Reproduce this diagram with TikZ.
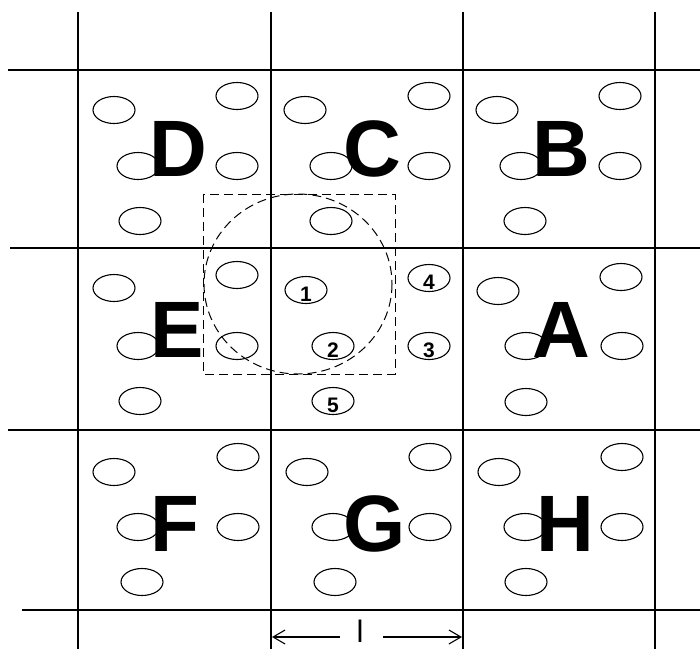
\documentclass[tikz,border=0pt]{standalone}
\usepackage{fontspec}
\setmainfont{Liberation Sans}
\usetikzlibrary{shapes.geometric,arrows.meta}
\begin{document}
\begin{tikzpicture}[x=1pt,y=-1pt,
  gridline/.style={line width=1.9pt},
  hole/.style={draw,ellipse,line width=1.1pt,minimum width=42pt,minimum height=27pt,inner sep=0pt},
  numtext/.style={font=\fontsize{21}{21}\selectfont\bfseries,inner sep=0pt},
  bigletter/.style={font=\fontsize{80}{80}\selectfont\bfseries,inner sep=0pt},
  guide/.style={line width=1pt,dash pattern=on 9pt off 5pt},
  dimarrow/.style={line width=1.1pt,-{Straight Barb[length=12pt,width=14pt,line width=1.1pt]}}]
\useasboundingbox (0,0) rectangle (700,648);

% grid
\foreach \x/\n in {78/v1,271/v2,463/v3,655/v4}{
  \coordinate (\n t) at (\x,12);
  \coordinate (\n b) at (\x,660);
  \draw[gridline] (\n t) -- (\n b);
}
\coordinate (h1l) at (8,70);   \coordinate (h1r) at (710,70);
\coordinate (h2l) at (10,248); \coordinate (h2r) at (710,248);
\coordinate (h3l) at (8,430);  \coordinate (h3r) at (710,430);
\coordinate (h4l) at (22,610); \coordinate (h4r) at (710,610);
\draw[gridline] (h1l) -- (h1r);
\draw[gridline] (h2l) -- (h2r);
\draw[gridline] (h3l) -- (h3r);
\draw[gridline] (h4l) -- (h4r);

% holes
\foreach \x/\y [count=\i] in {
  114/110, 237/96, 138/166, 237/166, 140/221,
  305/110, 429/96, 331/166, 429/166, 331/221,
  497/110, 620/96, 521/166, 620/166, 525/221,
  114/288, 237/275, 138/346, 237/346, 140/401,
  498/291, 621/277, 526/346, 622/346, 526/402,
  114/472, 238/457, 138/527, 238/527, 142/582,
  307/472, 430/457, 333/527, 430/527, 335/582,
  499/472, 622/457, 525/527, 622/527, 526/582}
  \node[hole] (hole\i) at (\x,\y) {};

% numbered holes
\foreach \x/\y/\t in {306/290/1, 333/346/2, 429/346/3, 429/278/4, 333/401/5}{
  \node[hole] (nh\t) at (\x,\y) {};
  \node[numtext] (nt\t) at ([yshift=-4pt]nh\t.center) {\t};
}

% letters
\node[bigletter] (D) at (178,149) {D};
\node[bigletter] (C) at (372,149) {C};
\node[bigletter] (B) at (561,149) {B};
\node[bigletter] (E) at (177,330) {E};
\node[bigletter] (A) at (561,330) {A};
\node[bigletter] (F) at (175,524) {F};
\node[bigletter] (G) at (375,524) {G};
\node[bigletter] (H) at (565,524) {H};

% dashed square and circle
\draw[guide] (203,194) rectangle (395,374);
\draw[guide] (298,284) ellipse [x radius=94, y radius=90];

% dimension
\node[font=\fontsize{31}{31}\selectfont,inner sep=0pt,anchor=north] (ell) at (360,620) {l};
\coordinate (la) at (340,637);
\coordinate (lb) at (272,637);
\coordinate (ra) at (383,637);
\coordinate (rb) at (462,637);
\draw[dimarrow] (la) -- (lb);
\draw[dimarrow] (ra) -- (rb);
\end{tikzpicture}
\end{document}
